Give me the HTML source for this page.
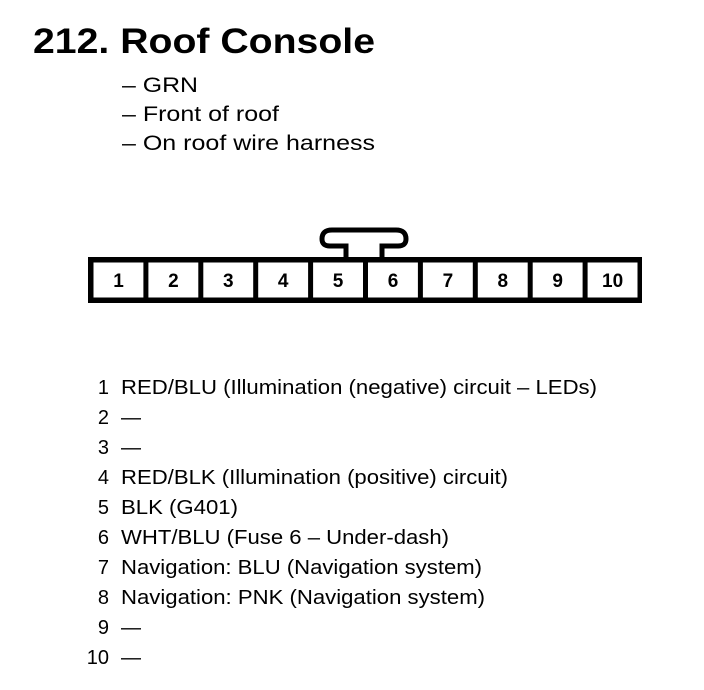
<!DOCTYPE html>
<html><head><style>html,body{margin:0;padding:0;background:#fff}svg{display:block}</style></head><body>
<svg width="704" height="690" viewBox="0 0 704 690" xmlns="http://www.w3.org/2000/svg" font-family="Liberation Sans, Arial, sans-serif" fill="#000">
<text x="33" y="53" font-size="35" font-weight="bold" textLength="342" lengthAdjust="spacingAndGlyphs">212. Roof Console</text>
<g font-size="21">
<text x="122" y="92" textLength="76" lengthAdjust="spacingAndGlyphs">– GRN</text>
<text x="122" y="121" textLength="157" lengthAdjust="spacingAndGlyphs">– Front of roof</text>
<text x="122" y="150" textLength="253" lengthAdjust="spacingAndGlyphs">– On roof wire harness</text>
</g>
<path d="M346,257 V246 H330 Q322,246 322,239 Q322,230 332,230 H396 Q406,230 406,239 Q406,246 398,246 H382 V257" fill="none" stroke="#000" stroke-width="5"/>
<rect x="88" y="257" width="554" height="46" fill="#000"/>
<g fill="#fff">
<rect x="93.5" y="262.5" width="49.9" height="35"/><rect x="148.4" y="262.5" width="49.9" height="35"/>
<rect x="203.3" y="262.5" width="49.9" height="35"/><rect x="258.2" y="262.5" width="49.9" height="35"/>
<rect x="313.1" y="262.5" width="49.9" height="35"/><rect x="368" y="262.5" width="49.9" height="35"/>
<rect x="422.9" y="262.5" width="49.9" height="35"/><rect x="477.8" y="262.5" width="49.9" height="35"/>
<rect x="532.7" y="262.5" width="49.9" height="35"/><rect x="587.6" y="262.5" width="49.9" height="35"/>
</g>
<g font-size="19" font-weight="bold" text-anchor="middle">
<text x="118.5" y="287">1</text><text x="173.4" y="287">2</text><text x="228.3" y="287">3</text>
<text x="283.2" y="287">4</text><text x="338.1" y="287">5</text><text x="393" y="287">6</text>
<text x="447.9" y="287">7</text><text x="502.8" y="287">8</text><text x="557.7" y="287">9</text>
<text x="612.6" y="287">10</text>
</g>
<g font-size="20">
<g text-anchor="end">
<text x="109" y="394">1</text><text x="109" y="424">2</text><text x="109" y="454">3</text>
<text x="109" y="484">4</text><text x="109" y="514">5</text><text x="109" y="544">6</text>
<text x="109" y="574">7</text><text x="109" y="604">8</text><text x="109" y="634">9</text>
<text x="109" y="664">10</text>
</g>
<text x="121" y="394" textLength="476" lengthAdjust="spacingAndGlyphs">RED/BLU (Illumination (negative) circuit – LEDs)</text>
<text x="121" y="424">—</text>
<text x="121" y="454">—</text>
<text x="121" y="484" textLength="387" lengthAdjust="spacingAndGlyphs">RED/BLK (Illumination (positive) circuit)</text>
<text x="121" y="514" textLength="117" lengthAdjust="spacingAndGlyphs">BLK (G401)</text>
<text x="121" y="544" textLength="328" lengthAdjust="spacingAndGlyphs">WHT/BLU (Fuse 6 – Under-dash)</text>
<text x="121" y="574" textLength="361" lengthAdjust="spacingAndGlyphs">Navigation: BLU (Navigation system)</text>
<text x="121" y="604" textLength="364" lengthAdjust="spacingAndGlyphs">Navigation: PNK (Navigation system)</text>
<text x="121" y="634">—</text>
<text x="121" y="664">—</text>
</g>
</svg>
</body></html>
